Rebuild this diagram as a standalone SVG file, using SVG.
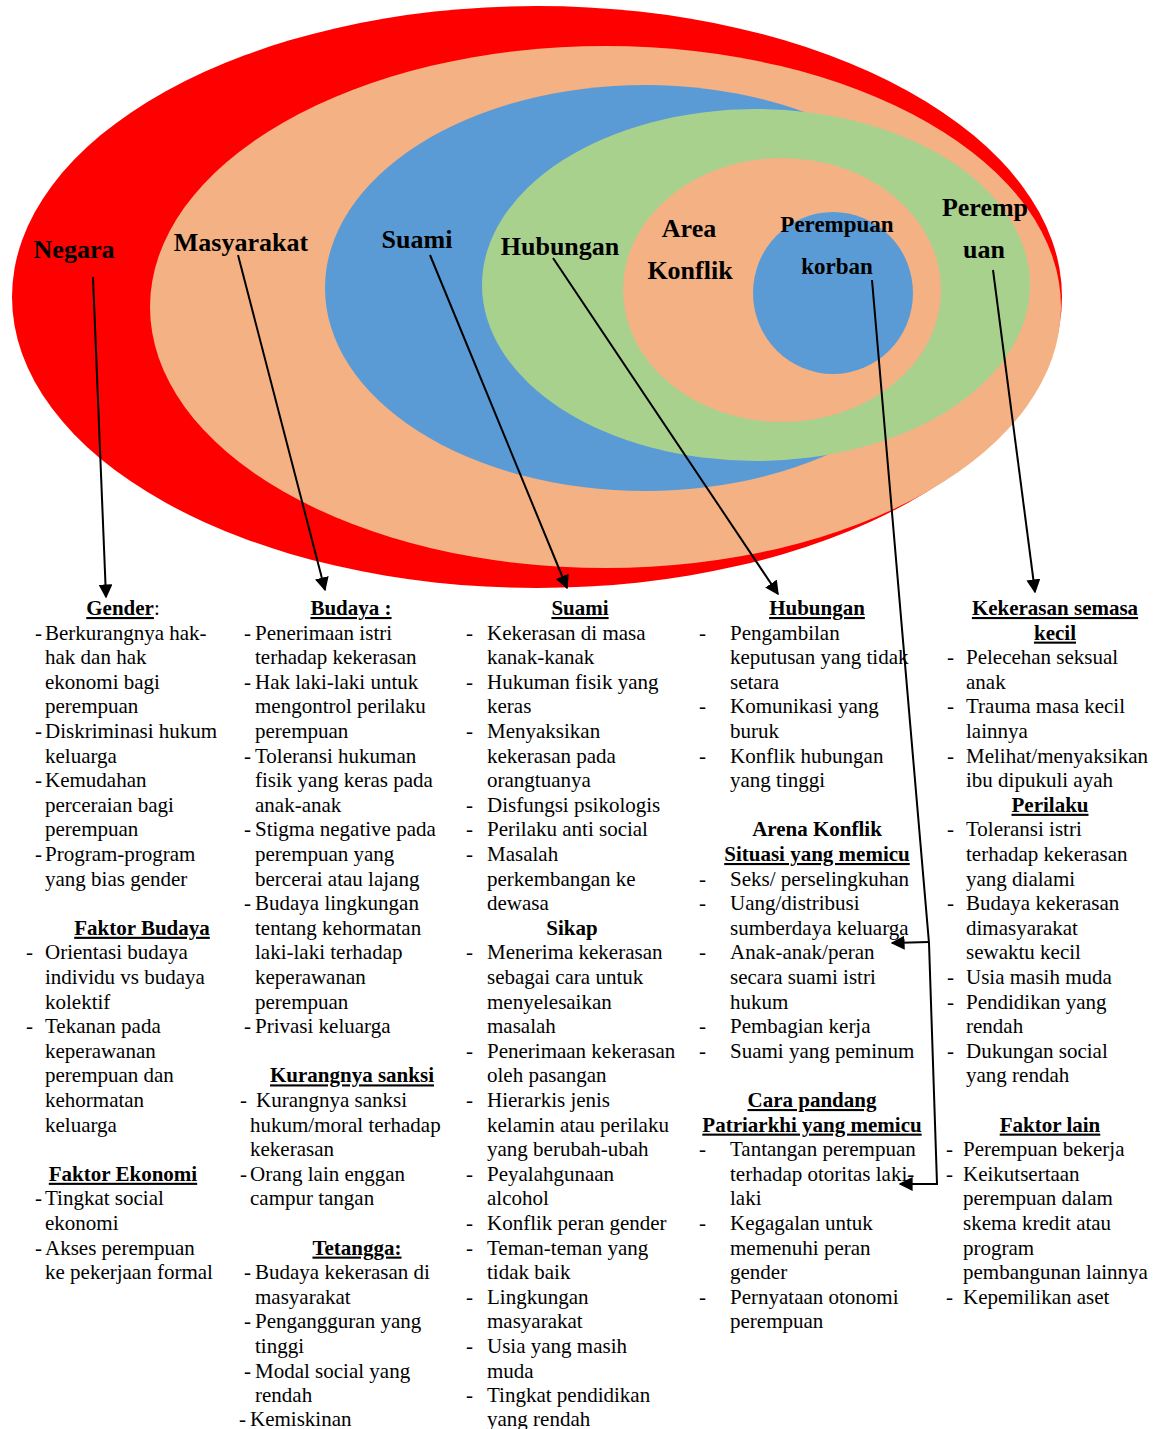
<svg xmlns="http://www.w3.org/2000/svg" width="1163" height="1429" viewBox="0 0 1163 1429">
<style>
text{font-family:"Liberation Serif","Times New Roman",serif;fill:#000}
.lbl{font-size:26px;font-weight:bold;text-anchor:middle}
.lbl2{font-size:23px;font-weight:bold;text-anchor:middle}
.t{font-size:21px}
.h{font-size:21px;font-weight:bold;text-anchor:middle}
.u{text-decoration:underline}
.con{stroke:#000;stroke-width:2;fill:none}
</style>
<defs>
<marker id="ah" viewBox="0 0 10 10" refX="9" refY="5" markerWidth="7" markerHeight="7" markerUnits="strokeWidth" orient="auto">
<path d="M0,0 L10,5 L0,10 z" fill="#000"/>
</marker>
</defs>
<rect width="1163" height="1429" fill="#fff"/>
<g id="negara"><ellipse cx="537" cy="297" rx="525" ry="291" fill="#FF0000"/></g>
<g id="masyarakat"><ellipse cx="605.5" cy="307" rx="455.5" ry="261" fill="#F4B183"/></g>
<g id="suami"><ellipse cx="645" cy="288" rx="320" ry="203" fill="#5B9BD5"/></g>
<g id="hubungan"><ellipse cx="756" cy="285" rx="274" ry="176" fill="#A9D18E"/></g>
<g id="area-konflik"><ellipse cx="782" cy="290" rx="159" ry="132" fill="#F4B183"/></g>
<g id="perempuan-korban"><ellipse cx="833" cy="293" rx="80" ry="81" fill="#5B9BD5"/></g>
<g id="labels">
<text class="lbl" x="74" y="258">Negara</text>
<text class="lbl" x="241" y="251">Masyarakat</text>
<text class="lbl" x="417" y="248">Suami</text>
<text class="lbl" x="560" y="255">Hubungan</text>
<text class="lbl" x="689" y="237">Area</text>
<text class="lbl" x="690" y="279">Konflik</text>
<text class="lbl2" x="837" y="232">Perempuan</text>
<text class="lbl2" x="837" y="274">korban</text>
<text class="lbl" x="985" y="216">Peremp</text>
<text class="lbl" x="984" y="258">uan</text>
</g>
<g id="connectors">
<line class="con" x1="93" y1="277" x2="106" y2="597" marker-end="url(#ah)"/>
<line class="con" x1="238" y1="255" x2="325" y2="590" marker-end="url(#ah)"/>
<line class="con" x1="430" y1="255" x2="567" y2="588" marker-end="url(#ah)"/>
<line class="con" x1="553" y1="258" x2="778" y2="594" marker-end="url(#ah)"/>
<line class="con" x1="993" y1="270" x2="1035" y2="592" marker-end="url(#ah)"/>
<polyline class="con" points="872,280 929,943 937,1184 900,1184" marker-end="url(#ah)"/>
<line class="con" x1="929" y1="942" x2="892" y2="943" marker-end="url(#ah)"/>
</g>
<g id="col-negara" class="t">
<text class="h" x="123" y="615"><tspan class="u">Gender</tspan><tspan font-weight="normal">:</tspan></text>
<text class="t" x="35" y="639.6">-</text><text class="t" x="45" y="639.6">Berkurangnya hak-</text>
<text class="t" x="45" y="664.2">hak dan hak</text>
<text class="t" x="45" y="688.8">ekonomi bagi</text>
<text class="t" x="45" y="713.4">perempuan</text>
<text class="t" x="35" y="738">-</text><text class="t" x="45" y="738">Diskriminasi hukum</text>
<text class="t" x="45" y="762.6">keluarga</text>
<text class="t" x="35" y="787.2">-</text><text class="t" x="45" y="787.2">Kemudahan</text>
<text class="t" x="45" y="811.8">perceraian bagi</text>
<text class="t" x="45" y="836.4">perempuan</text>
<text class="t" x="35" y="861">-</text><text class="t" x="45" y="861">Program-program</text>
<text class="t" x="45" y="885.6">yang bias gender</text>
<text class="h u" x="142" y="934.8">Faktor Budaya</text>
<text class="t" x="26" y="959.4">-</text><text class="t" x="45" y="959.4">Orientasi budaya</text>
<text class="t" x="45" y="984">individu vs budaya</text>
<text class="t" x="45" y="1008.6">kolektif</text>
<text class="t" x="26" y="1033.2">-</text><text class="t" x="45" y="1033.2">Tekanan pada</text>
<text class="t" x="45" y="1057.8">keperawanan</text>
<text class="t" x="45" y="1082.4">perempuan dan</text>
<text class="t" x="45" y="1107">kehormatan</text>
<text class="t" x="45" y="1131.6">keluarga</text>
<text class="h u" x="123" y="1180.8">Faktor Ekonomi</text>
<text class="t" x="35" y="1205.4">-</text><text class="t" x="45" y="1205.4">Tingkat social</text>
<text class="t" x="45" y="1230">ekonomi</text>
<text class="t" x="35" y="1254.6">-</text><text class="t" x="45" y="1254.6">Akses perempuan</text>
<text class="t" x="45" y="1279.2">ke pekerjaan formal</text>
</g>
<g id="col-masyarakat">
<text class="h u" x="351" y="615">Budaya :</text>
<text class="t" x="244" y="639.6">-</text><text class="t" x="255" y="639.6">Penerimaan istri</text>
<text class="t" x="255" y="664.2">terhadap kekerasan</text>
<text class="t" x="244" y="688.8">-</text><text class="t" x="255" y="688.8">Hak laki-laki untuk</text>
<text class="t" x="255" y="713.4">mengontrol perilaku</text>
<text class="t" x="255" y="738">perempuan</text>
<text class="t" x="244" y="762.6">-</text><text class="t" x="255" y="762.6">Toleransi hukuman</text>
<text class="t" x="255" y="787.2">fisik yang keras pada</text>
<text class="t" x="255" y="811.8">anak-anak</text>
<text class="t" x="244" y="836.4">-</text><text class="t" x="255" y="836.4">Stigma negative pada</text>
<text class="t" x="255" y="861">perempuan yang</text>
<text class="t" x="255" y="885.6">bercerai atau lajang</text>
<text class="t" x="244" y="910.2">-</text><text class="t" x="255" y="910.2">Budaya lingkungan</text>
<text class="t" x="255" y="934.8">tentang kehormatan</text>
<text class="t" x="255" y="959.4">laki-laki terhadap</text>
<text class="t" x="255" y="984">keperawanan</text>
<text class="t" x="255" y="1008.6">perempuan</text>
<text class="t" x="244" y="1033.2">-</text><text class="t" x="255" y="1033.2">Privasi keluarga</text>
<text class="h u" x="352" y="1082.4">Kurangnya sanksi</text>
<text class="t" x="240" y="1107">-</text><text class="t" x="256" y="1107">Kurangnya sanksi</text>
<text class="t" x="250" y="1131.6">hukum/moral terhadap</text>
<text class="t" x="250" y="1156.2">kekerasan</text>
<text class="t" x="240" y="1180.8">-</text><text class="t" x="250" y="1180.8">Orang lain enggan</text>
<text class="t" x="250" y="1205.4">campur tangan</text>
<text class="h u" x="357" y="1254.6">Tetangga:</text>
<text class="t" x="244" y="1279.2">-</text><text class="t" x="255" y="1279.2">Budaya kekerasan di</text>
<text class="t" x="255" y="1303.8">masyarakat</text>
<text class="t" x="244" y="1328.4">-</text><text class="t" x="255" y="1328.4">Pengangguran yang</text>
<text class="t" x="255" y="1353">tinggi</text>
<text class="t" x="244" y="1377.6">-</text><text class="t" x="255" y="1377.6">Modal social yang</text>
<text class="t" x="255" y="1402.2">rendah</text>
<text class="t" x="239" y="1425.5">-</text><text class="t" x="250" y="1425.5">Kemiskinan</text>
</g>
<g id="col-suami">
<text class="h u" x="580" y="615">Suami</text>
<text class="t" x="466" y="639.6">-</text><text class="t" x="487" y="639.6">Kekerasan di masa</text>
<text class="t" x="487" y="664.2">kanak-kanak</text>
<text class="t" x="466" y="688.8">-</text><text class="t" x="487" y="688.8">Hukuman fisik yang</text>
<text class="t" x="487" y="713.4">keras</text>
<text class="t" x="466" y="738">-</text><text class="t" x="487" y="738">Menyaksikan</text>
<text class="t" x="487" y="762.6">kekerasan pada</text>
<text class="t" x="487" y="787.2">orangtuanya</text>
<text class="t" x="466" y="811.8">-</text><text class="t" x="487" y="811.8">Disfungsi psikologis</text>
<text class="t" x="466" y="836.4">-</text><text class="t" x="487" y="836.4">Perilaku anti social</text>
<text class="t" x="466" y="861">-</text><text class="t" x="487" y="861">Masalah</text>
<text class="t" x="487" y="885.6">perkembangan ke</text>
<text class="t" x="487" y="910.2">dewasa</text>
<text class="h" x="572" y="934.8">Sikap</text>
<text class="t" x="466" y="959.4">-</text><text class="t" x="487" y="959.4">Menerima kekerasan</text>
<text class="t" x="487" y="984">sebagai cara untuk</text>
<text class="t" x="487" y="1008.6">menyelesaikan</text>
<text class="t" x="487" y="1033.2">masalah</text>
<text class="t" x="466" y="1057.8">-</text><text class="t" x="487" y="1057.8">Penerimaan kekerasan</text>
<text class="t" x="487" y="1082.4">oleh pasangan</text>
<text class="t" x="466" y="1107">-</text><text class="t" x="487" y="1107">Hierarkis jenis</text>
<text class="t" x="487" y="1131.6">kelamin atau perilaku</text>
<text class="t" x="487" y="1156.2">yang berubah-ubah</text>
<text class="t" x="466" y="1180.8">-</text><text class="t" x="487" y="1180.8">Peyalahgunaan</text>
<text class="t" x="487" y="1205.4">alcohol</text>
<text class="t" x="466" y="1230">-</text><text class="t" x="487" y="1230">Konflik peran gender</text>
<text class="t" x="466" y="1254.6">-</text><text class="t" x="487" y="1254.6">Teman-teman yang</text>
<text class="t" x="487" y="1279.2">tidak baik</text>
<text class="t" x="466" y="1303.8">-</text><text class="t" x="487" y="1303.8">Lingkungan</text>
<text class="t" x="487" y="1328.4">masyarakat</text>
<text class="t" x="466" y="1353">-</text><text class="t" x="487" y="1353">Usia yang masih</text>
<text class="t" x="487" y="1377.6">muda</text>
<text class="t" x="466" y="1401.5">-</text><text class="t" x="487" y="1401.5">Tingkat pendidikan</text>
<text class="t" x="487" y="1425.5">yang rendah</text>
</g>
<g id="col-hubungan">
<text class="h u" x="817" y="615">Hubungan</text>
<text class="t" x="699" y="639.6">-</text><text class="t" x="730" y="639.6">Pengambilan</text>
<text class="t" x="730" y="664.2">keputusan yang tidak</text>
<text class="t" x="730" y="688.8">setara</text>
<text class="t" x="699" y="713.4">-</text><text class="t" x="730" y="713.4">Komunikasi yang</text>
<text class="t" x="730" y="738">buruk</text>
<text class="t" x="699" y="762.6">-</text><text class="t" x="730" y="762.6">Konflik hubungan</text>
<text class="t" x="730" y="787.2">yang tinggi</text>
<text class="h" x="817" y="836.4">Arena Konflik</text>
<text class="h u" x="817" y="861">Situasi yang memicu</text>
<text class="t" x="699" y="885.6">-</text><text class="t" x="730" y="885.6">Seks/ perselingkuhan</text>
<text class="t" x="699" y="910.2">-</text><text class="t" x="730" y="910.2">Uang/distribusi</text>
<text class="t" x="730" y="934.8">sumberdaya keluarga</text>
<text class="t" x="699" y="959.4">-</text><text class="t" x="730" y="959.4">Anak-anak/peran</text>
<text class="t" x="730" y="984">secara suami istri</text>
<text class="t" x="730" y="1008.6">hukum</text>
<text class="t" x="699" y="1033.2">-</text><text class="t" x="730" y="1033.2">Pembagian kerja</text>
<text class="t" x="699" y="1057.8">-</text><text class="t" x="730" y="1057.8">Suami yang peminum</text>
<text class="h u" x="812" y="1107">Cara pandang</text>
<text class="h u" x="812" y="1131.6">Patriarkhi yang memicu</text>
<text class="t" x="699" y="1156.2">-</text><text class="t" x="730" y="1156.2">Tantangan perempuan</text>
<text class="t" x="730" y="1180.8">terhadap otoritas laki-</text>
<text class="t" x="730" y="1205.4">laki</text>
<text class="t" x="699" y="1230">-</text><text class="t" x="730" y="1230">Kegagalan untuk</text>
<text class="t" x="730" y="1254.6">memenuhi peran</text>
<text class="t" x="730" y="1279.2">gender</text>
<text class="t" x="699" y="1303.8">-</text><text class="t" x="730" y="1303.8">Pernyataan otonomi</text>
<text class="t" x="730" y="1328.4">perempuan</text>
</g>
<g id="col-perempuan">
<text class="h u" x="1055" y="615">Kekerasan semasa</text>
<text class="h u" x="1055" y="639.6">kecil</text>
<text class="t" x="947" y="664.2">-</text><text class="t" x="966" y="664.2">Pelecehan seksual</text>
<text class="t" x="966" y="688.8">anak</text>
<text class="t" x="947" y="713.4">-</text><text class="t" x="966" y="713.4">Trauma masa kecil</text>
<text class="t" x="966" y="738">lainnya</text>
<text class="t" x="947" y="762.6">-</text><text class="t" x="966" y="762.6">Melihat/menyaksikan</text>
<text class="t" x="966" y="787.2">ibu dipukuli ayah</text>
<text class="h u" x="1050" y="811.8">Perilaku</text>
<text class="t" x="947" y="836.4">-</text><text class="t" x="966" y="836.4">Toleransi istri</text>
<text class="t" x="966" y="861">terhadap kekerasan</text>
<text class="t" x="966" y="885.6">yang dialami</text>
<text class="t" x="947" y="910.2">-</text><text class="t" x="966" y="910.2">Budaya kekerasan</text>
<text class="t" x="966" y="934.8">dimasyarakat</text>
<text class="t" x="966" y="959.4">sewaktu kecil</text>
<text class="t" x="947" y="984">-</text><text class="t" x="966" y="984">Usia masih muda</text>
<text class="t" x="947" y="1008.6">-</text><text class="t" x="966" y="1008.6">Pendidikan yang</text>
<text class="t" x="966" y="1033.2">rendah</text>
<text class="t" x="947" y="1057.8">-</text><text class="t" x="966" y="1057.8">Dukungan social</text>
<text class="t" x="966" y="1082.4">yang rendah</text>
<text class="h u" x="1050" y="1131.6">Faktor lain</text>
<text class="t" x="946" y="1156.2">-</text><text class="t" x="963" y="1156.2">Perempuan bekerja</text>
<text class="t" x="946" y="1180.8">-</text><text class="t" x="963" y="1180.8">Keikutsertaan</text>
<text class="t" x="963" y="1205.4">perempuan dalam</text>
<text class="t" x="963" y="1230">skema kredit atau</text>
<text class="t" x="963" y="1254.6">program</text>
<text class="t" x="963" y="1279.2">pembangunan lainnya</text>
<text class="t" x="946" y="1303.8">-</text><text class="t" x="963" y="1303.8">Kepemilikan aset</text>
</g>
</svg>
